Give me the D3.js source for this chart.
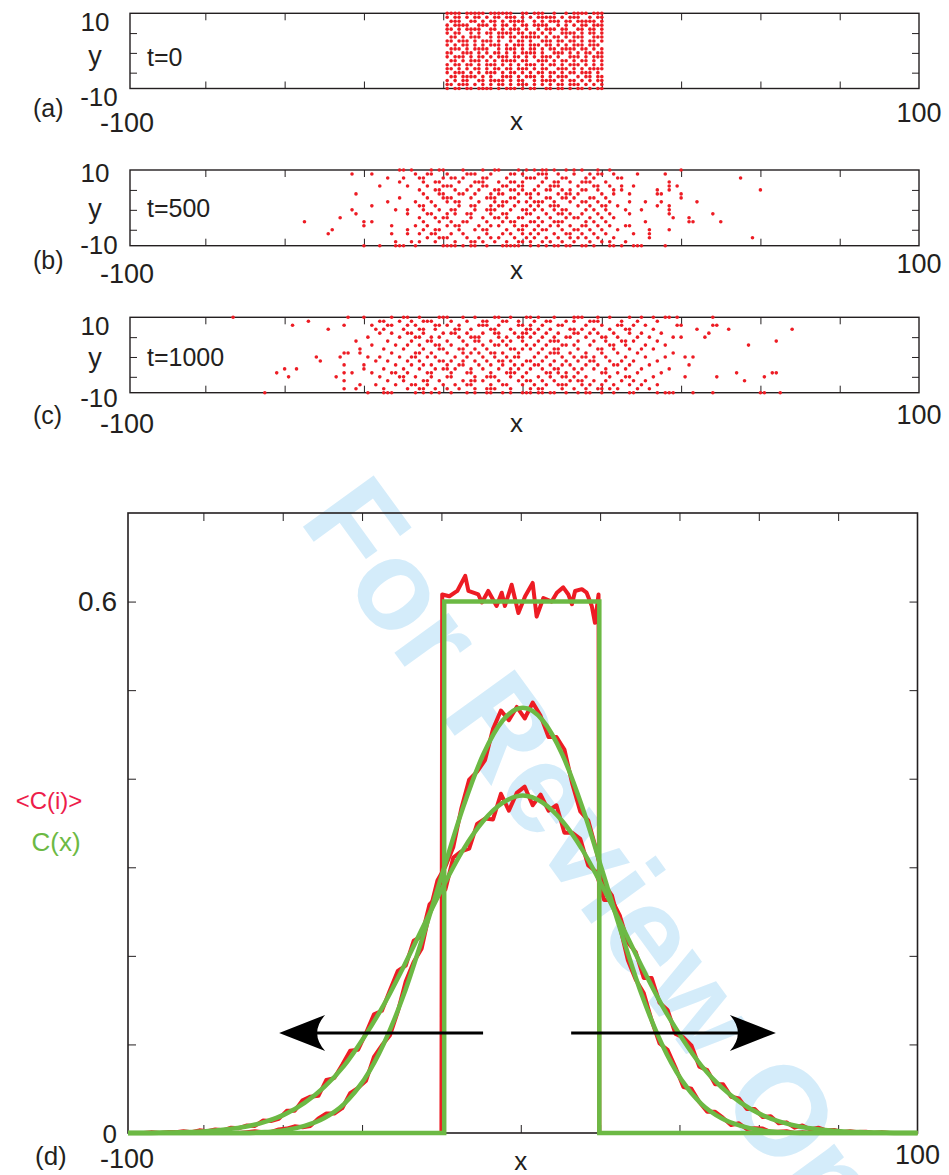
<!DOCTYPE html>
<html>
<head>
<meta charset="utf-8">
<script src="https://cdn.jsdelivr.net/npm/d3@7"></script>
<style>
body { margin: 0; background: #fff; }
text { font-family: "Liberation Sans", Arial, sans-serif; fill: #231f20; }
</style>
</head>
<body>
<svg id="fig" width="949" height="1175"></svg>
<script>
// ---- data ----
// lattice rows, top row first
var rowY = [10, 9, 8, 7, 6, 5, 4, 3, 2, 1, 0, -1, -2, -3, -4, -5, -6, -7, -8, -9];

// (a) t=0 : one string per row, sites x=-19..20, '#' = occupied
var dotsA = [
    "####.#####.######..##.###..#..#.####.###",
    "#.##.#.##.#.##.###.#.#.#####.#.###..#.##",
    ".###..##.#.##.#.####..#.#.###.##.#####.#",
    "#.####..###.#.##.#.##.####..#.#.#.##.###",
    "##.#.####..##.#.###.#..#.###.##..##.##.#",
    "#.##..#.#.##.####.##.##.#.#..####.#.##.#",
    ".##.#.###..#.##.##.#####.#.##.#.###..###",
    "##.###.#.###.#..#.##.#..###.##.##.#.##.#",
    "#.#.##.#.#.###.#.###.###.##.#.#.###.###.",
    ".###.#.####..#.###.#.##.#.##.####.##.#.#",
    "##..###.#.#.##.#.#.####.#..###.#.#.##.##",
    "#.###.#.##.#.###.##.#.#.###.#..###.#.###",
    ".##.#.###.#.#.####.##..###.#.##.#.##.#.#",
    "#.##.##.#.###.#.#.#.###.#.##.#.###.#.#.#",
    "##.#.#.##.#.##.##.###.#.##..###.#.#.####",
    "#.###.#.#.###.#.##.#.#.##.##.#.##.###.#.",
    ".##.####.#.#..###.#.###.#.#.###..#.##.##",
    "#.#.##..##.####.#.##..#.####.#.##.#.#.##",
    "##.###.#.#.#.##.#.###.#.#.#.##.###.#.#.#",
    "#.##.##.####.#.###.#.##..##.##.#.##.#.##"
];

// (b) t=500 : x of every occupied site, per row
var dotsB = [
    [-31,-30,-28,-23,-21,-20,-15,-10,-7,-6,-1,1,3,5,6,8,11,13,15,19,22,40],
    [-43,-38,-27,-24,-23,-19,-14,-13,-12,-8,-3,-2,0,4,5,6,9,13,17,19,20,23,29,36],
    [-34,-30,-26,-25,-20,-18,-17,-15,-10,-9,-4,1,2,3,6,10,11,16,18,24,25,55],
    [-31,-25,-22,-21,-16,-12,-11,-10,-6,-3,-2,0,5,8,9,12,15,16,17,21,37],
    [-36,-29,-24,-20,-19,-18,-13,-10,-9,-5,-4,-1,0,4,7,8,9,14,18,19,22,25,28,37,39],
    [-26,-22,-21,-17,-14,-11,-7,-6,-3,-2,0,3,6,7,10,12,15,16,19,23,25,34,37,60],
    [-42,-25,-21,-20,-16,-15,-12,-8,-6,-5,-1,1,2,4,9,11,12,14,20,23,27,34,35,40],
    [-31,-24,-20,-19,-18,-13,-9,-8,-7,-3,-2,2,6,7,10,11,13,17,18,21,40],
    [-34,-27,-23,-19,-17,-16,-11,-7,-5,-4,-1,1,3,4,5,8,12,15,16,19,22,27,31,35,44],
    [-38,-26,-25,-22,-16,-13,-12,-8,-6,-5,-2,2,4,7,8,9,14,17,20,21,24,34,37],
    [-43,-32,-29,-25,-21,-18,-17,-12,-9,-8,-7,-3,0,1,3,5,8,10,11,16,18,21,26,30,37],
    [-42,-29,-24,-23,-19,-17,-14,-13,-8,-5,-4,1,2,6,9,10,12,15,19,22,27,37,48],
    [-46,-26,-22,-20,-19,-13,-10,-7,-6,-4,-1,0,4,7,11,13,14,17,20,23,38,42],
    [-55,-40,-38,-25,-21,-18,-15,-14,-9,-5,-3,-2,2,3,5,8,9,10,16,18,21,31,42,43,50],
    [-40,-33,-27,-24,-19,-17,-16,-11,-8,-6,-2,0,1,4,7,9,12,15,16,19,22,26,27],
    [-48,-29,-25,-22,-21,-16,-12,-10,-9,-4,-1,0,3,5,6,10,13,14,17,20,24,32,37],
    [-49,-33,-29,-26,-23,-22,-18,-15,-9,-5,-3,0,2,4,8,11,12,15,18,21,28,32],
    [-24,-21,-20,-19,-14,-11,-8,-6,-2,1,3,6,9,12,14,16,19,23,32,58],
    [-32,-28,-26,-22,-17,-13,-12,-10,-7,-4,-1,0,2,5,7,10,13,17,20,22,26],
    [-40,-36,-32,-31,-30,-27,-20,-19,-18,-17,-15,-13,-12,-9,-5,-4,-3,-2,-1,2,4,6,8,9,11,12,15,16,18,22,23,25,28,29,30,36]
];

// (c) t=1000
var dotsC = [
    [-73,-44,-40,-33,-30,-29,-26,-21,-20,-19,-15,-12,-7,-6,-3,1,2,4,8,13,14,15,19,22,27,30,33,36,37,39,48],
    [-54,-36,-35,-31,-28,-25,-24,-23,-18,-14,-10,-9,-5,-4,-1,3,6,7,11,13,17,18,19,25,29,34],
    [-58,-45,-38,-34,-33,-29,-27,-22,-21,-19,-16,-11,-10,-9,-6,-1,0,2,5,9,10,16,20,24,25,28,31,39,40,48,49],
    [-49,-37,-35,-30,-26,-25,-22,-17,-16,-13,-8,-7,-3,1,2,4,7,12,13,15,18,22,26,27,33,44,52,68],
    [-36,-33,-29,-28,-25,-20,-18,-17,-14,-10,-7,-6,-2,0,1,3,6,9,13,14,17,19,23,27,30,35,47],
    [-39,-31,-27,-26,-23,-21,-16,-13,-12,-11,-6,-4,-1,0,2,5,8,11,12,16,20,21,24,29,32,38,40,46],
    [-42,-34,-28,-24,-23,-19,-15,-12,-11,-8,-5,-3,0,4,7,8,9,14,18,21,25,26,28,34,64],
    [-38,-32,-29,-26,-22,-21,-18,-14,-10,-7,-6,-4,1,3,6,10,11,13,17,22,23,26,31,36,57],
    [-41,-35,-30,-25,-21,-20,-16,-15,-12,-9,-3,-2,0,2,5,8,9,14,19,20,23,27,30,33],
    [-45,-44,-41,-33,-27,-26,-23,-19,-15,-13,-11,-8,-7,-5,-1,4,7,8,9,12,16,20,24,29,38],
    [-52,-46,-39,-36,-31,-28,-27,-24,-22,-17,-14,-10,-7,-4,-2,-1,3,6,10,13,15,16,18,21,26,31,36,41,43],
    [-51,-37,-34,-29,-26,-21,-20,-18,-15,-12,-9,-6,-5,-3,1,2,5,8,11,14,17,18,22,25,28,34],
    [-45,-40,-32,-28,-25,-23,-19,-16,-15,-11,-8,-5,-2,0,3,4,7,10,12,16,19,23,24,27,32,42],
    [-60,-57,-40,-35,-30,-26,-22,-20,-19,-17,-13,-10,-6,-3,-1,2,5,8,9,13,15,18,21,26,30,37],
    [-62,-45,-43,-38,-33,-32,-29,-24,-23,-18,-14,-13,-8,-4,-3,-2,1,6,7,9,11,14,20,21,24,29,35,54,63,64],
    [-59,-47,-36,-31,-30,-27,-23,-19,-18,-12,-9,-8,-7,-3,0,4,7,10,11,13,16,22,26,27,33,41,49,61],
    [-45,-34,-30,-25,-24,-21,-15,-13,-12,-10,-6,-1,1,2,5,8,12,14,15,18,21,25,28,31,56],
    [-41,-37,-32,-28,-27,-24,-20,-17,-14,-13,-8,-5,-4,0,3,6,9,10,11,15,17,20,23,27,30,34],
    [-45,-42,-35,-29,-26,-25,-22,-19,-16,-12,-9,-8,-7,-3,2,4,5,10,13,16,19,20,22,24,29,32],
    [-65,-39,-35,-34,-33,-27,-25,-23,-21,-18,-14,-12,-9,-8,-5,-3,0,1,2,4,5,7,8,11,14,16,17,20,23,27,28,34,36,37,38,43,48,60,61,65]
];

var panelTags = ["(a)", "(b)", "(c)"];
var panelTimes = ["t=0", "t=500", "t=1000"];
var xTicks = [-80, -60, -40, -20, 0, 20, 40, 60, 80];
var yTicksSmall = [-5, 0, 5];
var yTicksBig = [0.1, 0.2, 0.3, 0.4, 0.5, 0.6];

// (d) profiles
// averaged lattice occupancy <C(i)>, t=0 (plateau read point by point)
var red0X = [-99, -20, -19.8, -18, -16, -14, -13.2, -10.7, -9.8, -8.2, -6.1, -4.8, -4, -2.3, -0.6, 1.1,
             3, 4, 5.7, 7.8, 9.1, 10.7, 12, 12.9, 13.7, 15.4, 16.6, 17.9, 18.7, 19.6, 19.8, 100];
var red0 = [0, 0, 0.608, 0.606, 0.612, 0.629, 0.612, 0.608, 0.599, 0.612, 0.595, 0.610, 0.595, 0.619, 0.587, 0.606,
            0.621, 0.583, 0.604, 0.600, 0.610, 0.616, 0.608, 0.597, 0.612, 0.614, 0.610, 0.595, 0.576, 0.608, 0, 0];

// t=500 and t=1000, sites x = -99, -97, ..., 99
var redX = d3.range(-99, 100, 2);
var red500 = [
    0, 0, 0, 0, 0, 0, 0, 0, 0, 0,                                              // -99..-81
    0, 0, 0.001, 0, 0, 0.001, 0.002, 0.001, 0.001, 0.004,                      // -79..-61
    0.005, 0.0075, 0.0065, 0.008, 0.0165, 0.022, 0.022, 0.028, 0.045, 0.051,   // -59..-41
    0.059, 0.086, 0.099, 0.110, 0.137, 0.171, 0.193, 0.208, 0.249, 0.285,      // -39..-21
    0.301, 0.323, 0.366, 0.399, 0.408, 0.421, 0.456, 0.477, 0.466, 0.481,      // -19..-1
    0.468, 0.486, 0.471, 0.447, 0.447, 0.433, 0.394, 0.363, 0.353, 0.320,      // 1..19
    0.281, 0.268, 0.233, 0.195, 0.173, 0.158, 0.127, 0.101, 0.094, 0.074,      // 21..39
    0.052, 0.050, 0.035, 0.024, 0.024, 0.017, 0.009, 0.011, 0.0045, 0.0055,    // 41..59
    0.005, 0.001, 0.0015, 0.002, 0, 0.001, 0, 0, 0.001, 0,                     // 61..79
    0, 0, 0, 0, 0, 0, 0, 0, 0, 0                                               // 81..99
];
var red1000 = [
    0, 0, 0, 0.001, 0, 0.001, 0.001, 0.002, 0.001, 0.003,                      // -99..-81
    0.002, 0.004, 0.003, 0.006, 0.0055, 0.0085, 0.008, 0.014, 0.0135, 0.016,   // -79..-61
    0.025, 0.025, 0.037, 0.041, 0.042, 0.060, 0.062, 0.077, 0.093, 0.094,      // -59..-41
    0.113, 0.134, 0.138, 0.161, 0.183, 0.189, 0.217, 0.222, 0.258, 0.267,      // -39..-21
    0.275, 0.311, 0.318, 0.321, 0.349, 0.355, 0.354, 0.383, 0.364, 0.384,      // -19..-1
    0.391, 0.370, 0.382, 0.364, 0.370, 0.339, 0.339, 0.332, 0.302, 0.295,      // 1..19
    0.263, 0.263, 0.245, 0.215, 0.204, 0.175, 0.175, 0.147, 0.139, 0.112,      // 21..39
    0.108, 0.099, 0.075, 0.071, 0.055, 0.055, 0.041, 0.039, 0.027, 0.027,      // 41..59
    0.018, 0.019, 0.011, 0.012, 0.006, 0.0085, 0.004, 0.006, 0.003, 0.0035,    // 61..79
    0.001, 0.002, 0.001, 0.0015, 0, 0.001, 0, 0, 0, 0                          // 81..99
];

// continuum C(x)
var stepX = [-99, -19.3, -19.3, 19.8, 19.8, 100];
var step0 = [0, 0, 0.6, 0.6, 0, 0];
var greenX = [-99, -94.5, -89.5, -84.5, -79.5, -74.5, -69.5, -64.5, -59.5, -54.5, -49.5, -44.5, -39.5, -34.5,
              -29.5, -24.5, -19.5, -14.5, -9.5, -4.5, 0.5, 5.5, 10.5, 15.5, 20.5, 25.5, 30.5, 35.5, 40.5,
              45.5, 50.5, 55.5, 60.5, 65.5, 70.5, 75.5, 80.5, 85.5, 90.5, 95.5, 100];
var green500 = [0, 0, 0, 0, 0, 0, 0, 0.001, 0.003, 0.008, 0.017, 0.033, 0.060, 0.101, 0.156, 0.224, 0.297,
                0.368, 0.427, 0.466, 0.480, 0.466, 0.427, 0.368, 0.297, 0.224, 0.156, 0.101, 0.060, 0.033,
                0.017, 0.008, 0.003, 0.001, 0, 0, 0, 0, 0, 0, 0];
var green1000 = [0, 0, 0.0005, 0.001, 0.002, 0.004, 0.007, 0.0125, 0.021, 0.034, 0.052, 0.076, 0.108, 0.145,
                 0.188, 0.234, 0.279, 0.320, 0.352, 0.373, 0.381, 0.373, 0.352, 0.320, 0.279, 0.234, 0.188,
                 0.145, 0.108, 0.076, 0.052, 0.034, 0.021, 0.0125, 0.007, 0.004, 0.002, 0.001, 0.0005, 0, 0];

// spreading arrows (tail x, tip x, height)
var arrowTail = [-9.5, 12.7];
var arrowTip = [-60.9, 64.3];
var arrowY = 0.113;

// ---- drawing ----
var RED = "#ed1c24";
var GREEN = "#6cb944";
var INK = "#231f20";
var svg = d3.select("#fig");

// watermark goes underneath everything
svg.append("text")
    .attr("transform", "translate(298,520) rotate(54)")
    .attr("font-size", 127)
    .attr("font-weight", "bold")
    .style("fill", "#d4ecfa")
    .text("For Review Only");

function latticePoints(rows, toX) {
    return d3.merge(rows.map(function(row, r) {
        return toX(row).map(function(x) { return [x, rowY[r]]; });
    }));
}
// label baselines differ a little from panel to panel in the figure
var panels = [
    {top: 13.3, bottom: 88.5, tenY: 31, yY: 65, negY: 106, timeY: 66, tagY: 117, endY: 132, xlabY: 130, rightY: 122,
     pts: latticePoints(dotsA, function(s) {
        var out = [];
        s.split("").forEach(function(c, j) { if (c == "#") out.push(-19 + j); });
        return out;
     })},
    {top: 170, bottom: 245.7, tenY: 182, yY: 218, negY: 254, timeY: 217, tagY: 269, endY: 283, xlabY: 279, rightY: 273,
     pts: latticePoints(dotsB, function(row) { return row; })},
    {top: 317.3, bottom: 392.7, tenY: 335, yY: 367, negY: 407, timeY: 366, tagY: 424, endY: 433, xlabY: 432, rightY: 424,
     pts: latticePoints(dotsC, function(row) { return row; })}
];

function noDomain(g) { g.select(".domain").remove(); g.selectAll("line").attr("stroke", INK); }

panels.forEach(function(p, i) {
    var g = svg.append("g");
    var x = d3.scaleLinear().domain([-99, 100]).range([130, 919]);
    var y = d3.scaleLinear().domain([-9, 10]).range([p.bottom, p.top]);

    g.append("rect")
        .attr("x", x(-99)).attr("y", y(10))
        .attr("width", x(100) - x(-99)).attr("height", y(-9) - y(10))
        .attr("fill", "none").attr("stroke", INK).attr("stroke-width", 1.4);

    g.append("g").attr("transform", "translate(0," + y(-9) + ")")
        .call(d3.axisBottom(x).tickValues(xTicks).tickSize(-7).tickFormat("")).call(noDomain);
    g.append("g").attr("transform", "translate(0," + y(10) + ")")
        .call(d3.axisTop(x).tickValues(xTicks).tickSize(-7).tickFormat("")).call(noDomain);
    g.append("g").attr("transform", "translate(" + x(-99) + ",0)")
        .call(d3.axisLeft(y).tickValues(yTicksSmall).tickSize(-7).tickFormat("")).call(noDomain);
    g.append("g").attr("transform", "translate(" + x(100) + ",0)")
        .call(d3.axisRight(y).tickValues(yTicksSmall).tickSize(-7).tickFormat("")).call(noDomain);

    g.selectAll("circle").data(p.pts).join("circle")
        .attr("cx", function(d) { return x(d[0]); })
        .attr("cy", function(d) { return y(d[1]); })
        .attr("r", 1.8)
        .attr("fill", RED);

    g.append("text").attr("x", 95).attr("y", p.tenY).attr("text-anchor", "middle")
        .attr("font-size", 26).text("10");
    g.append("text").attr("x", 95).attr("y", p.yY).attr("text-anchor", "middle")
        .attr("font-size", 27).text("y");
    g.append("text").attr("x", 99).attr("y", p.negY).attr("text-anchor", "middle")
        .attr("font-size", 26).text("-10");
    g.append("text").attr("x", 147).attr("y", p.timeY)
        .attr("font-size", 25).text(panelTimes[i]);
    g.append("text").attr("x", 33).attr("y", p.tagY)
        .attr("font-size", 25).text(panelTags[i]);
    g.append("text").attr("x", 127).attr("y", p.endY).attr("text-anchor", "middle")
        .attr("font-size", 27).text("-100");
    g.append("text").attr("x", x(0) - 6).attr("y", p.xlabY).attr("text-anchor", "middle")
        .attr("font-size", 26).text("x");
    g.append("text").attr("x", x(100)).attr("y", p.rightY).attr("text-anchor", "middle")
        .attr("font-size", 27).text("100");
});

// ---- panel (d) ----
var xd = d3.scaleLinear().domain([-99, 100]).range([128, 917.5]);
var yd = d3.scaleLinear().domain([0, 0.7]).range([1133, 513]);
var gd = svg.append("g");

gd.append("rect")
    .attr("x", xd(-99)).attr("y", yd(0.7))
    .attr("width", xd(100) - xd(-99)).attr("height", yd(0) - yd(0.7))
    .attr("fill", "none").attr("stroke", INK).attr("stroke-width", 1.6);
gd.append("g").attr("transform", "translate(0," + yd(0) + ")")
    .call(d3.axisBottom(xd).tickValues(xTicks).tickSize(-8).tickFormat("")).call(noDomain);
gd.append("g").attr("transform", "translate(0," + yd(0.7) + ")")
    .call(d3.axisTop(xd).tickValues(xTicks).tickSize(-8).tickFormat("")).call(noDomain);
gd.append("g").attr("transform", "translate(" + xd(-99) + ",0)")
    .call(d3.axisLeft(yd).tickValues(yTicksBig).tickSize(-8).tickFormat("")).call(noDomain);
gd.append("g").attr("transform", "translate(" + xd(100) + ",0)")
    .call(d3.axisRight(yd).tickValues(yTicksBig).tickSize(-8).tickFormat("")).call(noDomain);

function pairs(xs, ys) { return xs.map(function(v, k) { return [v, ys[k]]; }); }
var straight = d3.line().x(function(d) { return xd(d[0]); }).y(function(d) { return yd(d[1]); });
var smooth = d3.line().curve(d3.curveMonotoneX)
    .x(function(d) { return xd(d[0]); }).y(function(d) { return yd(d[1]); });

[pairs(red0X, red0), pairs(redX, red500), pairs(redX, red1000)].forEach(function(s) {
    gd.append("path").attr("d", straight(s)).attr("fill", "none")
        .attr("stroke", RED).attr("stroke-width", 4).attr("stroke-linejoin", "round");
});
gd.append("path").attr("d", straight(pairs(stepX, step0))).attr("fill", "none")
    .attr("stroke", GREEN).attr("stroke-width", 4.5);
[pairs(greenX, green500), pairs(greenX, green1000)].forEach(function(s) {
    gd.append("path").attr("d", smooth(s)).attr("fill", "none")
        .attr("stroke", GREEN).attr("stroke-width", 4.5);
});

// arrows
arrowTail.forEach(function(t, k) {
    var x0 = xd(t), x1 = xd(arrowTip[k]), yy = yd(arrowY);
    var dir = x1 < x0 ? -1 : 1;
    gd.append("line").attr("x1", x0).attr("y1", yy).attr("x2", x1 - dir * 20).attr("y2", yy)
        .attr("stroke", "#000").attr("stroke-width", 3);
    var head = d3.path();
    head.moveTo(x1, yy);
    head.lineTo(x1 - dir * 46, yy - 18);
    head.quadraticCurveTo(x1 - dir * 30, yy, x1 - dir * 46, yy + 18);
    head.closePath();
    gd.append("path").attr("d", head.toString()).attr("fill", "#000");
});

// labels (d)
gd.append("text").attr("x", 117).attr("y", yd(0.6) + 9).attr("text-anchor", "end")
    .attr("font-size", 28).text("0.6");
gd.append("text").attr("x", 117).attr("y", yd(0) + 10).attr("text-anchor", "end")
    .attr("font-size", 26).text("0");
gd.append("text").attr("x", 35).attr("y", yd(0) + 32).attr("font-size", 26).text("(d)");
gd.append("text").attr("x", 127).attr("y", yd(0) + 35).attr("text-anchor", "middle")
    .attr("font-size", 27).text("-100");
gd.append("text").attr("x", xd(0)).attr("y", yd(0) + 37).attr("text-anchor", "middle")
    .attr("font-size", 26).text("x");
gd.append("text").attr("x", xd(100)).attr("y", yd(0) + 31).attr("text-anchor", "middle")
    .attr("font-size", 27).text("100");
gd.append("text").attr("x", 49).attr("y", 809).attr("text-anchor", "middle")
    .attr("font-size", 24).style("fill", "#ed1c4a").text("<C(i)>");
gd.append("text").attr("x", 56).attr("y", 851).attr("text-anchor", "middle")
    .attr("font-size", 26).style("fill", GREEN).text("C(x)");
</script>
</body>
</html>
